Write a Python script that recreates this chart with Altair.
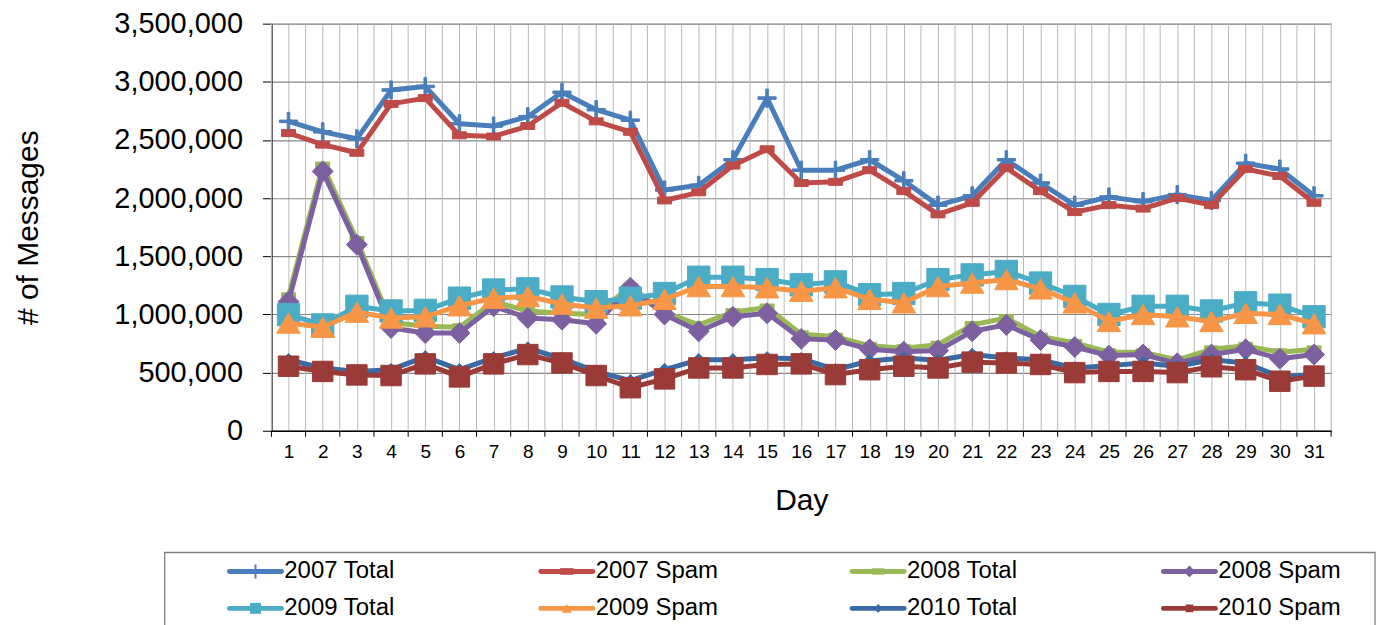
import altair as alt
import pandas as pd

days = list(range(1, 32))
series_names = ["2007 Total", "2007 Spam", "2008 Total", "2008 Spam",
                "2009 Total", "2009 Spam", "2010 Total", "2010 Spam"]

total_2007 = [2660000, 2570000, 2510000, 2930000, 2960000, 2640000, 2620000, 2700000, 2910000, 2760000,
              2670000, 2070000, 2110000, 2330000, 2860000, 2240000, 2240000, 2330000, 2150000, 1940000,
              2020000, 2330000, 2130000, 1940000, 2010000, 1970000, 2030000, 1980000, 2300000, 2250000, 2020000]
spam_2007 = [2560000, 2460000, 2390000, 2810000, 2860000, 2540000, 2530000, 2620000, 2820000, 2660000,
             2570000, 1980000, 2050000, 2280000, 2420000, 2130000, 2140000, 2240000, 2060000, 1860000,
             1960000, 2260000, 2060000, 1880000, 1940000, 1910000, 2000000, 1940000, 2250000, 2190000, 1960000]
total_2008 = [1156000, 2280000, 1640000, 930000, 898000, 890000, 1110000, 1030000, 1010000, 1000000,
              1240000, 1020000, 910000, 1020000, 1060000, 830000, 810000, 730000, 710000, 740000,
              910000, 970000, 810000, 755000, 675000, 675000, 610000, 700000, 730000, 675000, 700000]
spam_2008 = [1110000, 2230000, 1600000, 884000, 840000, 840000, 1070000, 970000, 955000, 920000,
             1230000, 1000000, 855000, 980000, 1010000, 790000, 780000, 700000, 680000, 690000,
             855000, 910000, 780000, 720000, 646000, 655000, 580000, 655000, 700000, 620000, 655000]
total_2009 = [998000, 910000, 1070000, 1030000, 1035000, 1140000, 1210000, 1220000, 1150000, 1110000,
              1140000, 1180000, 1320000, 1320000, 1300000, 1255000, 1280000, 1170000, 1180000, 1300000,
              1340000, 1370000, 1270000, 1155000, 1000000, 1070000, 1070000, 1030000, 1100000, 1080000, 980000]
spam_2009 = [926000, 890000, 1020000, 970000, 980000, 1075000, 1140000, 1155000, 1090000, 1055000,
             1075000, 1130000, 1240000, 1240000, 1230000, 1200000, 1230000, 1130000, 1100000, 1240000,
             1270000, 1300000, 1220000, 1100000, 940000, 1000000, 980000, 940000, 1010000, 1000000, 920000]
total_2010 = [610000, 540000, 510000, 525000, 635000, 525000, 626000, 710000, 620000, 510000,
              430000, 525000, 610000, 610000, 626000, 620000, 525000, 600000, 626000, 606000,
              655000, 626000, 610000, 540000, 560000, 583000, 555000, 610000, 583000, 463000, 483000]
spam_2010 = [555000, 510000, 480000, 475000, 575000, 463000, 575000, 655000, 583000, 475000,
             370000, 446000, 540000, 540000, 570000, 575000, 483000, 525000, 555000, 540000,
             590000, 583000, 570000, 500000, 510000, 510000, 500000, 550000, 525000, 426000, 470000]

y_ticks = [0, 500000, 1000000, 1500000, 2000000, 2500000, 3000000, 3500000]

all_values = [total_2007, spam_2007, total_2008, spam_2008, total_2009, spam_2009, total_2010, spam_2010]

# styling
colors = ["#4A7EBB", "#BE4B48", "#98B954", "#7D60A0", "#4BACC6", "#F79646", "#3A6AA3", "#9B3B38"]
PLUS = "M-1,-0.14H1V0.14H-1Z M-0.14,-1H0.14V1H-0.14Z"
DASH = "M-1,-0.5H1V0.5H-1Z"
shapes = [PLUS, DASH, DASH, "diamond", "square", "triangle-up", "diamond", "square"]
sizes = [330, 196, 196, 441, 500, 560, 160, 420]
legend_sizes = [200, 60, 60, 170, 200, 220, 110, 200]

FONT = "Liberation Sans"

rows = []
for name, vals in zip(series_names, all_values):
    for d, v in zip(days, vals):
        rows.append({"day": d, "series": name, "value": v})
df = pd.DataFrame(rows)

W, H = 1062, 408
boundaries = [d - 0.5 for d in days] + [days[-1] + 0.5]

x_scale = alt.Scale(domain=[0.5, 31.5], nice=False, zero=False)
x_axis = alt.Axis(values=days, grid=True, gridColor="#b9b9b9", gridWidth=1,
                  ticks=False, domainColor="black", domainWidth=1.3,
                  format="d", labelFontSize=19, labelFont=FONT, labelColor="black",
                  labelPadding=12, title="Day", titleFont=FONT, titleFontSize=30,
                  titleFontWeight="normal", titleColor="black", titlePadding=24)
y_scale = alt.Scale(domain=[0, 3500000], nice=False)
y_axis = alt.Axis(values=y_ticks, format=",d", grid=True, gridColor="#868686", gridWidth=1.2,
                  tickSize=9, tickColor="black", domainColor="black", domainWidth=1.3,
                  labelFontSize=29, labelFont=FONT, labelColor="black", labelPadding=20,
                  title="# of Messages", titleFont=FONT, titleFontSize=30,
                  titleFontWeight="normal", titleColor="black", titlePadding=70)

X = alt.X("day:Q", scale=x_scale, axis=x_axis)
Y = alt.Y("value:Q", scale=y_scale, axis=y_axis)

bdf = pd.DataFrame({"b": boundaries})
XB = alt.X("b:Q", scale=x_scale, axis=x_axis)
bound_grid = alt.Chart(bdf).mark_rule(color="#b9b9b9", strokeWidth=1).encode(x=XB)
bound_ticks = alt.Chart(bdf).mark_rule(color="black", strokeWidth=1).encode(
    x=XB, y=alt.value(H), y2=alt.value(H + 6))

layers = [bound_grid, bound_ticks]
for name, col, shp, sz in zip(series_names, colors, shapes, sizes):
    base = alt.Chart(df).transform_filter(alt.datum.series == name)
    layers.append(base.mark_line(color=col, strokeWidth=5, strokeJoin="round").encode(x=X, y=Y))
    layers.append(base.mark_point(filled=True, color=col, fill=col, stroke=col, strokeWidth=1,
                                  opacity=1, shape=shp, size=sz).encode(x=X, y=Y))

main = alt.layer(*layers).properties(width=W, height=H)

# legend
LW, LH = 1106, 74
leg_df = pd.DataFrame({"series": series_names, "idx": list(range(len(series_names)))})
lbase = alt.Chart(leg_df).transform_calculate(
    col="datum.idx % 4", row="floor(datum.idx / 4)"
).transform_calculate(
    x0="datum.col", x1="datum.col + 0.167", xm="datum.col + 0.0835", xt="datum.col + 0.176"
)
lx = alt.Scale(domain=[0.1346, 0.1346 + LW / 312], nice=False, zero=False)
ly = alt.Scale(domain=[-19 / 37, -19 / 37 + LH / 37], nice=False, zero=False, reverse=True)
cscale = alt.Scale(domain=series_names, range=colors)
LY = alt.Y("row:Q", scale=ly, axis=None)

leg_lines = lbase.mark_rule(strokeWidth=5, strokeCap="round").encode(
    x=alt.X("x0:Q", scale=lx, axis=None), x2="x1:Q", y=LY,
    color=alt.Color("series:N", scale=cscale, legend=None))
leg_pts = lbase.mark_point(filled=True, opacity=1).encode(
    x=alt.X("xm:Q", scale=lx, axis=None), y=LY,
    color=alt.Color("series:N", scale=cscale, legend=None),
    shape=alt.Shape("series:N", scale=alt.Scale(domain=series_names, range=shapes), legend=None),
    size=alt.Size("series:N", scale=alt.Scale(domain=series_names, range=legend_sizes), legend=None))
leg_text = lbase.mark_text(align="left", baseline="middle", fontSize=24, font=FONT, color="black").encode(
    x=alt.X("xt:Q", scale=lx, axis=None), y=LY, text="series:N")
leg_box = alt.Chart(pd.DataFrame({"k": [0]})).mark_rect(
    fill="transparent", stroke="#7f7f7f", strokeWidth=1.3).encode(
    x=alt.value(-107), x2=alt.value(1106), y=alt.value(0), y2=alt.value(LH + 10))

legend = alt.layer(leg_box, leg_lines, leg_pts, leg_text).properties(
    width=LW, height=LH, view=alt.ViewBackground(stroke="transparent"))

chart = alt.vconcat(main, legend, spacing=122, bounds="flush").properties(
    padding={"left": 5, "top": 0, "right": 0, "bottom": 0}
).configure_view(stroke="#7f7f7f", strokeWidth=1.3).configure(background="white")

chart.save("out.html", embed_options={"renderer": "svg", "actions": False})
